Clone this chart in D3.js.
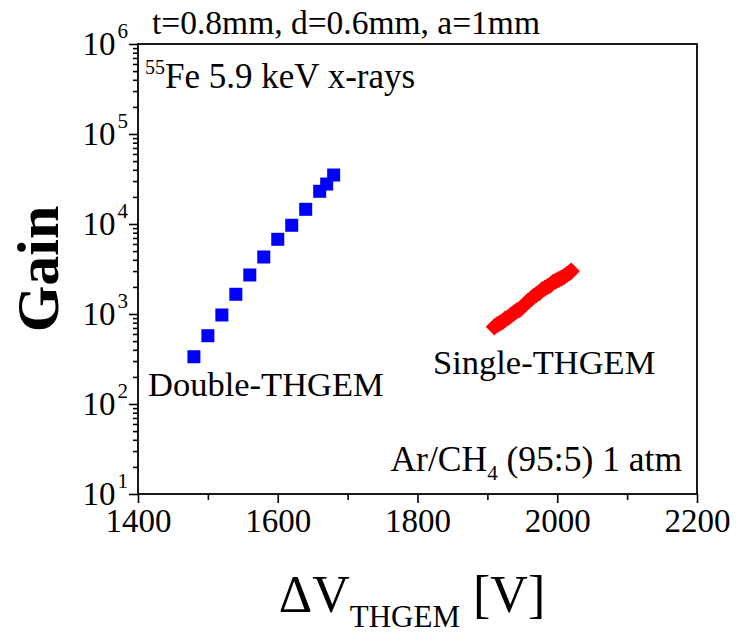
<!DOCTYPE html>
<html>
<head>
<meta charset="utf-8">
<script src="https://cdn.jsdelivr.net/npm/d3@7"></script>
<style>
  body { margin: 0; background: #fff; }
  svg { font-family: "Liberation Serif", "Times New Roman", serif; }
  .axis path, .axis line { stroke: #000; stroke-width: 1.6px; }
  .axis text { font-family: "Liberation Serif", serif; fill: #000; }
</style>
</head>
<body>
<svg id="chart" width="737" height="637"></svg>
<script>
// Double-THGEM (blue squares)
const doubleV = [1480, 1500, 1520, 1540, 1560, 1580, 1600, 1620, 1640, 1660, 1670, 1680];
const doubleGain = [335, 574, 975, 1656, 2713, 4300, 6760, 9680, 14560, 23100, 27800, 35000];

// Single-THGEM (red diamonds)
const singleV = [1910, 1914, 1918, 1922, 1926, 1930, 1934, 1938, 1942, 1946, 1950, 1954, 1958, 1962,
  1966, 1970, 1974, 1978, 1982, 1986, 1990, 1994, 1998, 2002, 2006, 2010, 2014, 2018, 2020];
const singleGain = [720, 760, 790, 830, 880, 920, 970, 1030, 1080, 1120, 1200, 1290, 1380, 1460,
  1560, 1640, 1720, 1850, 1930, 2020, 2100, 2240, 2330, 2420, 2500, 2620, 2760, 2900, 3000];

const xTicks = [1400, 1600, 1800, 2000, 2200];
const xMinor = [1500, 1700, 1900, 2100];
const yDecades = [1, 2, 3, 4, 5, 6];

const margin = {left: 138, right: 40, top: 44, bottom: 143};
const width = 737, height = 637;

const svg = d3.select('#chart');

const x = d3.scaleLinear().domain([1400, 2200]).range([margin.left, width - margin.right]);
const y = d3.scaleLog().domain([10, 1e6]).range([height - margin.bottom, margin.top]);

// minor y ticks, 2..9 per decade
const yMinor = [];
yDecades.slice(0, -1).forEach(e => {
  for (let k = 2; k <= 9; k++) yMinor.push(k * Math.pow(10, e));
});

// frame
svg.append('rect')
  .attr('x', x(1400)).attr('y', y(1e6))
  .attr('width', x(2200) - x(1400)).attr('height', y(10) - y(1e6))
  .attr('fill', 'none').attr('stroke', '#000').attr('stroke-width', 1.8);

// x axis
const gx = svg.append('g').attr('class', 'axis')
  .attr('transform', `translate(0,${y(10)})`)
  .call(d3.axisBottom(x).tickValues(xTicks).tickSize(9).tickPadding(6).tickFormat(d3.format('d')));
gx.selectAll('text').style('font-size', '33px');
gx.select('.domain').remove();
svg.append('g').attr('class', 'axis')
  .attr('transform', `translate(0,${y(10)})`)
  .call(d3.axisBottom(x).tickValues(xMinor).tickSize(6).tickFormat(''))
  .select('.domain').remove();

// y axis
const gy = svg.append('g').attr('class', 'axis')
  .attr('transform', `translate(${x(1400)},0)`)
  .call(d3.axisLeft(y).tickValues(yDecades.map(e => Math.pow(10, e))).tickSize(9).tickFormat(''));
gy.select('.domain').remove();
svg.append('g').attr('class', 'axis')
  .attr('transform', `translate(${x(1400)},0)`)
  .call(d3.axisLeft(y).tickValues(yMinor).tickSize(5).tickFormat(''))
  .select('.domain').remove();

// y tick labels as 10^n
yDecades.forEach(e => {
  const t = svg.append('text')
    .attr('x', x(1400) - 10).attr('y', y(Math.pow(10, e)) + 11)
    .attr('text-anchor', 'end')
    .style('font-size', '33px');
  t.append('tspan').text('10');
  t.append('tspan').attr('dy', -17).attr('dx', 2).style('font-size', '21px').text(e);
});

// data: blue squares
const sq = 13;
svg.append('g').selectAll('rect')
  .data(doubleV.map((v, i) => [v, doubleGain[i]]))
  .join('rect')
  .attr('x', d => x(d[0]) - sq / 2)
  .attr('y', d => y(d[1]) - sq / 2)
  .attr('width', sq).attr('height', sq)
  .attr('fill', '#0000ff');

// data: red diamonds
const diamond = d3.symbol().type(d3.symbolDiamond2).size(190);
svg.append('g').selectAll('path')
  .data(singleV.map((v, i) => [v, singleGain[i]]))
  .join('path')
  .attr('transform', d => `translate(${x(d[0])},${y(d[1])})`)
  .attr('d', diamond)
  .attr('fill', '#ff0000');

// annotations
svg.append('text').attr('x', 152).attr('y', 34)
  .style('font-size', '33.5px').text('t=0.8mm, d=0.6mm, a=1mm');

const fe = svg.append('text').attr('x', 145).attr('y', 88).style('font-size', '35px');
fe.append('tspan').attr('dy', -14).style('font-size', '20px').text('55');
fe.append('tspan').attr('dy', 14).text('Fe 5.9 keV x-rays');

svg.append('text').attr('x', 148).attr('y', 396)
  .style('font-size', '34.5px').text('Double-THGEM');
svg.append('text').attr('x', 433).attr('y', 374)
  .style('font-size', '34.5px').text('Single-THGEM');

const gas = svg.append('text').attr('x', 682).attr('y', 471)
  .attr('text-anchor', 'end').style('font-size', '35.5px');
gas.append('tspan').text('Ar/CH');
gas.append('tspan').attr('dy', 9).style('font-size', '21px').text('4');
gas.append('tspan').attr('dy', -9).text(' (95:5) 1 atm');

// axis titles
svg.append('text')
  .attr('transform', `translate(58,${(y(10) + y(1e6)) / 2}) rotate(-90)`)
  .attr('text-anchor', 'middle')
  .style('font-size', '60px').style('font-weight', 'bold')
  .text('Gain');

const xt = svg.append('text')
  .attr('x', 412).attr('y', 612)
  .attr('text-anchor', 'middle').style('font-size', '52px');
xt.append('tspan').text('ΔV');
xt.append('tspan').attr('dy', 15).style('font-size', '31px').text('THGEM');
xt.append('tspan').attr('dy', -15).text(' [V]');
</script>
</body>
</html>
